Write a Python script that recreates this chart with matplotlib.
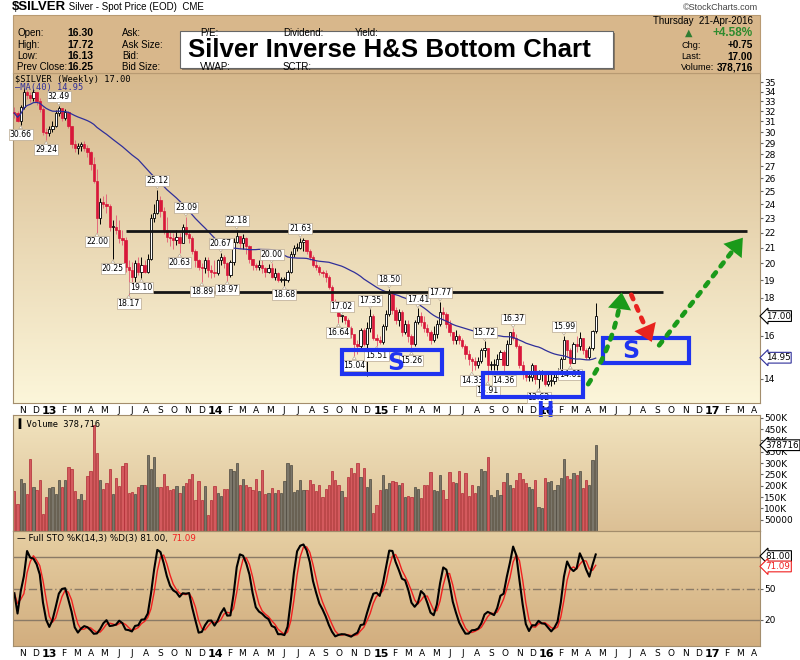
import numpy as np
import pandas as pd
import matplotlib
matplotlib.use("Agg")
import matplotlib.pyplot as plt
import matplotlib.dates as mdates
import matplotlib.colors as mcolors
from matplotlib.patches import Rectangle, FancyArrowPatch
from matplotlib.offsetbox import TextArea, HPacker, AnchoredOffsetbox

plt.rcParams['font.family'] = ['DejaVu Sans']

# ---- weekly data (Oct 2012 - Apr 2016) ----
weeks = pd.date_range('2012-10-15', periods=184, freq='W-MON')
first_open = 31.9
closes = [31.8, 31.0, 32.4, 34.0, 33.6, 33.3, 33.9, 33.0, 32.2, 30.0,
          29.9, 30.3, 30.6, 31.8, 32.3, 31.3, 31.9, 30.6, 28.9, 28.6,
          28.7, 28.9, 28.6, 28.2, 27.2, 25.8, 23.0, 24.2, 24.0, 23.9,
          22.4, 22.4, 22.2, 21.6, 21.5, 19.8, 19.6, 19.2, 20.0, 19.5,
          19.9, 19.5, 20.3, 23.0, 23.4, 24.3, 23.5, 22.2, 21.7, 21.6,
          21.5, 21.7, 21.3, 22.4, 21.9, 21.6, 20.8, 20.2, 19.8, 19.7,
          20.2, 19.6, 19.5, 19.4, 20.2, 20.4, 20.0, 19.3, 20.1, 21.4,
          21.8, 21.3, 21.6, 21.1, 20.3, 19.9, 19.8, 19.9, 19.7, 19.5,
          19.7, 19.2, 19.4, 19.0, 19.0, 19.0, 19.5, 20.6, 21.0, 21.0,
          21.4, 21.5, 20.8, 20.4, 19.9, 19.8, 19.5, 19.4, 19.2, 18.6,
          17.8, 17.4, 17.0, 17.0, 16.8, 16.4, 16.1, 15.6, 15.5, 16.3,
          15.6, 16.4, 17.0, 15.9, 15.8, 15.7, 16.5, 17.1, 18.2, 17.3,
          16.8, 17.2, 16.2, 16.6, 16.0, 15.6, 16.7, 17.0, 16.7, 16.4,
          16.2, 15.8, 16.1, 16.6, 17.2, 17.1, 16.6, 16.2, 15.8, 16.0,
          15.8, 15.5, 15.1, 14.9, 14.8, 14.6, 14.8, 15.3, 15.4, 14.6,
          14.6, 14.6, 14.9, 15.2, 14.6, 15.6, 16.2, 15.9, 15.5, 14.6,
          14.2, 14.1, 14.1, 14.6, 14.0, 14.2, 14.2, 13.8, 13.9, 13.9,
          14.1, 14.3, 14.9, 15.8, 15.3, 14.7, 15.6, 15.5, 15.9, 15.3,
          15.0, 15.4, 16.25, 17.00]
highs = [32.4, 32.0, 32.6, 34.4, 34.2, 34.0, 34.3, 34.0, 33.3, 32.4,
         30.4, 30.6, 31.0, 32.1, 32.49, 32.2, 32.2, 32.0, 30.5, 29.3,
         29.0, 29.1, 29.2, 28.8, 28.3, 27.8, 26.8, 24.5, 24.6, 24.8,
         24.0, 22.9, 23.2, 22.9, 22.2, 21.7, 20.2, 20.1, 20.2, 20.4,
         20.4, 20.2, 20.6, 23.3, 24.0, 25.12, 24.6, 23.8, 23.1, 22.2,
         22.0, 22.2, 22.0, 22.6, 23.09, 22.2, 21.8, 20.9, 20.3, 20.0,
         20.4, 20.4, 19.9, 20.2, 20.3, 20.67, 20.5, 20.1, 20.2, 21.6,
         22.18, 21.8, 21.9, 21.7, 21.2, 20.3, 20.0, 20.2, 20.2, 19.8,
         19.95, 20.00, 19.7, 19.5, 19.2, 19.2, 19.6, 20.8, 21.2, 21.3,
         21.63, 21.6, 21.4, 20.9, 20.5, 20.2, 19.9, 19.6, 19.6, 19.3,
         18.7, 17.9, 17.5, 17.02, 17.0, 16.9, 16.5, 16.0, 15.8, 16.4,
         16.4, 16.7, 17.35, 17.1, 16.1, 16.0, 16.6, 17.3, 18.50, 18.3,
         17.5, 17.4, 17.3, 16.8, 16.8, 16.1, 16.8, 17.41, 17.2, 17.0,
         16.6, 16.3, 16.5, 16.8, 17.77, 17.5, 17.2, 16.8, 16.2, 16.3,
         16.1, 15.9, 15.6, 15.3, 15.0, 15.0, 15.0, 15.4, 15.72, 15.3,
         14.8, 14.9, 15.1, 15.3, 15.3, 15.8, 16.2, 16.37, 16.1, 15.6,
         14.8, 14.3, 14.3, 14.7, 14.6, 14.4, 14.4, 14.3, 14.3, 14.2,
         14.3, 14.5, 15.0, 15.99, 15.7, 15.4, 15.7, 16.0, 16.2, 15.9,
         15.4, 15.5, 16.3, 17.72]
lows = [31.3, 30.9, 30.66, 32.2, 33.2, 32.9, 33.0, 32.6, 31.9, 29.7,
        29.24, 29.6, 30.0, 30.5, 31.5, 31.0, 31.1, 30.4, 28.6, 28.2,
        28.0, 28.3, 28.3, 27.8, 26.7, 25.6, 22.00, 22.6, 23.7, 23.4,
        22.1, 20.25, 21.9, 21.3, 21.2, 19.5, 18.17, 18.6, 18.9, 19.3,
        19.10, 19.4, 19.4, 20.2, 22.7, 23.3, 23.1, 21.9, 21.4, 21.1,
        20.9, 21.2, 20.63, 21.3, 21.8, 21.3, 20.6, 19.8, 19.6, 18.89,
        19.4, 19.2, 19.1, 19.2, 19.3, 19.9, 19.7, 18.97, 19.2, 19.9,
        21.3, 21.0, 20.9, 20.6, 20.0, 19.6, 19.6, 19.6, 19.4, 19.2,
        19.4, 19.1, 19.0, 18.9, 18.9, 18.68, 18.9, 19.4, 20.4, 20.8,
        20.9, 20.8, 20.6, 20.2, 19.8, 19.6, 19.3, 19.2, 18.9, 18.5,
        17.6, 17.2, 16.64, 16.7, 16.6, 16.2, 15.9, 15.04, 15.1, 15.4,
        15.5, 14.15, 16.2, 15.8, 15.51, 15.6, 15.6, 16.3, 17.0, 17.1,
        16.6, 16.5, 16.0, 16.1, 15.7, 15.26, 15.5, 16.6, 16.5, 16.2,
        16.0, 15.6, 15.7, 15.9, 16.5, 16.8, 16.4, 16.0, 15.6, 15.6,
        15.6, 15.4, 14.9, 14.6, 14.33, 14.4, 14.5, 14.7, 15.0, 13.91,
        14.4, 14.4, 14.4, 14.9, 14.36, 14.6, 15.6, 15.8, 15.4, 14.5,
        14.0, 13.9, 13.9, 13.9, 13.8, 13.62, 13.9, 13.7, 13.7, 13.7,
        13.8, 14.0, 14.3, 14.9, 15.0, 14.61, 14.7, 15.2, 15.3, 15.1,
        14.9, 14.9, 15.3, 16.13]
# weekly volume, thousands
volume_k = [175, 120, 230, 212, 165, 320, 195, 183, 227, 76,
            150, 190, 195, 165, 227, 195, 224, 282, 275, 178,
            141, 162, 135, 242, 264, 468, 343, 224, 186, 212,
            275, 165, 235, 200, 287, 301, 168, 174, 165, 195,
            203, 205, 334, 272, 327, 195, 195, 250, 200, 183,
            186, 200, 168, 198, 212, 230, 250, 138, 220, 138,
            200, 71, 138, 200, 168, 153, 186, 187, 272, 264,
            301, 205, 230, 205, 195, 180, 230, 175, 269, 165,
            168, 189, 168, 180, 168, 220, 298, 290, 174, 180,
            223, 180, 183, 224, 209, 175, 205, 148, 187, 205,
            263, 224, 205, 175, 150, 239, 276, 254, 301, 239,
            279, 195, 230, 79, 114, 183, 248, 186, 212, 220,
            218, 205, 212, 150, 153, 148, 195, 186, 145, 202,
            202, 260, 183, 175, 248, 183, 143, 260, 218, 212,
            264, 168, 257, 153, 203, 168, 200, 275, 264, 328,
            159, 148, 183, 160, 215, 254, 205, 190, 223, 257,
            230, 212, 195, 186, 223, 105, 101, 236, 215, 220,
            180, 203, 235, 319, 242, 230, 254, 248, 263, 190,
            224, 205, 313, 378.716]

# weeks carrying a price label on the chart
high_label_weeks = [14, 45, 54, 65, 70, 81, 90, 103, 112, 118, 127, 134, 148, 157, 173]
low_label_weeks = [2, 10, 26, 31, 36, 40, 52, 59, 67, 85, 102, 107, 114, 125,
                   144, 149, 154, 165, 175]

sto_k_last, sto_d_last = 81.00, 71.09

# ---- derived series ----
closes = np.array(closes)
highs = np.array(highs)
lows = np.array(lows)
opens = np.r_[first_open, closes[:-1]]
x = mdates.date2num(weeks)
ma40 = pd.Series(closes).rolling(40, min_periods=1).mean()
hh = pd.Series(highs).rolling(14, min_periods=1).max()
ll = pd.Series(lows).rolling(14, min_periods=1).min()
fast_k = 100 * (pd.Series(closes) - ll) / (hh - ll)
sto_k = fast_k.rolling(3, min_periods=1).mean()
sto_d = sto_k.rolling(3, min_periods=1).mean()

W, H = 800, 660
fig = plt.figure(figsize=(8, 6.6), dpi=100)
hfont = 'Liberation Sans'


def rect(x0, y0, x1, y1):
    return [x0 / W, 1 - y1 / H, (x1 - x0) / W, (y1 - y0) / H]


def grad_bg(r, top, bottom):
    bg = fig.add_axes(r, zorder=-5)
    t = np.array(mcolors.to_rgb(top))
    b = np.array(mcolors.to_rgb(bottom))
    c = np.linspace(0, 1, 200)[:, None]
    bg.imshow((t + (b - t) * c)[:, None, :], aspect='auto', extent=[0, 1, 0, 1])
    bg.axis('off')


xlim = (mdates.date2num(pd.Timestamp('2012-10-12')), mdates.date2num(pd.Timestamp('2017-04-15')))
months = pd.date_range('2012-11-01', '2017-04-01', freq='MS')
mlabels = [f'{d.year % 100}' if d.month == 1 else 'JFMAMJJASOND'[d.month - 1] for d in months]
spine_col = '#A38D6C'

# ---- header ----
fig.patches.append(Rectangle((13 / W, 1 - 73 / H), 747 / W, 58 / H, transform=fig.transFigure,
                             fc='#D8B78B', ec='#B89A72', lw=0.8, zorder=0))
hdr = HPacker(children=[TextArea(r'\$SILVER', textprops=dict(fontsize=9.5, weight='bold', family=hfont)),
                        TextArea(' Silver - Spot Price (EOD)  CME', textprops=dict(fontsize=7, family=hfont))],
              align='baseline', pad=0, sep=0)
fig.add_artist(AnchoredOffsetbox(loc='upper left', child=hdr, pad=0, borderpad=0, frameon=False,
                                 bbox_to_anchor=(12 / W, 1 - 1 / H), bbox_transform=fig.transFigure))
fig.text(758 / W, 1 - 8 / H, '\u00a9StockCharts.com', fontsize=6.5, ha='right', va='center',
         color='#444444', family=hfont)

for i, (lab, val) in enumerate([('Open:', '16.30'), ('High:', '17.72'), ('Low:', '16.13'),
                                ('Prev Close:', '16.25')]):
    yy = 1 - (33 + i * 11.5) / H
    fig.text(17 / W, yy, lab, fontsize=7, va='center', family=hfont)
    fig.text(67 / W, yy, val, fontsize=7.5, weight='bold', va='center', family=hfont)
for i, lab in enumerate(['Ask:', 'Ask Size:', 'Bid:', 'Bid Size:']):
    fig.text(122 / W, 1 - (33 + i * 11.5) / H, lab, fontsize=7, va='center', family=hfont)
for xx, lab in [(200, 'P/E:'), (283, 'Dividend:'), (355, 'Yield:')]:
    fig.text(xx / W, 1 - 33 / H, lab, fontsize=7, va='center', family=hfont)
for xx, lab in [(200, 'VWAP:'), (283, 'SCTR:')]:
    fig.text(xx / W, 1 - 67.5 / H, lab, fontsize=7, va='center', family=hfont)

fig.text(753 / W, 1 - 21 / H, 'Thursday  21-Apr-2016', fontsize=7, ha='right', va='center', family=hfont)
fig.text(689 / W, 1 - 33 / H, '\u25b2', fontsize=7, color='#2E7D32', ha='center', va='center')
fig.text(753 / W, 1 - 33 / H, '+4.58%', fontsize=8.5, color='#2E8B2E', weight='bold', ha='right',
         va='center', family=hfont)
for i, (lab, val) in enumerate([('Chg:', '+0.75'), ('Last:', '17.00'), ('Volume:', '378,716')]):
    yy = 1 - (45 + i * 11.5) / H
    fig.text(681 / W, yy, lab, fontsize=6.6, va='center', family=hfont)
    fig.text(753 / W, yy, val, fontsize=7.2, weight='bold', ha='right', va='center', family=hfont)

# title box
fig.patches.append(Rectangle((182 / W, 1 - 70 / H), 433 / W, 37 / H, transform=fig.transFigure,
                             fc='#8C7A62', ec='none', zorder=2))
fig.patches.append(Rectangle((180 / W, 1 - 68 / H), 433 / W, 37 / H, transform=fig.transFigure,
                             fc='white', ec='#666666', lw=0.8, zorder=3))
fig.text(389 / W, 1 - 50 / H, 'Silver Inverse H&S Bottom Chart', fontsize=18.6, weight='bold',
         family=hfont, ha='center', va='center', zorder=4)

# ---- price panel ----
grad_bg(rect(13, 73, 760, 403), '#D6B88C', '#FCF6DA')
ax = fig.add_axes(rect(13, 73, 760, 403))
ax.set_facecolor('none')
ax.set_yscale('log')
ax.set_xlim(*xlim)
ax.set_ylim(13.0, 36.0)

up = closes >= opens
ax.vlines(x[up], lows[up], highs[up], color='black', lw=0.7, zorder=2)
ax.vlines(x[~up], lows[~up], highs[~up], color='#E5677A', lw=0.7, zorder=2)
ax.bar(x[up], np.maximum(closes - opens, 0.05)[up], bottom=opens[up], width=5.0,
       fc='white', ec='black', lw=0.6, zorder=3)
ax.bar(x[~up], np.maximum(opens - closes, 0.05)[~up], bottom=closes[~up], width=5.0,
       fc='#D8173A', ec='#D8173A', lw=0.5, zorder=3)
ax.plot(x, ma40, color='#2F2F9A', lw=0.9, zorder=4)

lbl_kw = dict(fontsize=5.6, zorder=6, family='DejaVu Sans',
              bbox=dict(boxstyle='square,pad=0.12', fc='white', ec='#B8A890', lw=0.5),
              arrowprops=dict(arrowstyle='wedge,tail_width=0.5', fc='white', ec='#B8A890', lw=0.5,
                              shrinkA=0, shrinkB=0.5))
for i in high_label_weeks:
    ax.annotate(f'{highs[i]:.2f}', xy=(x[i], highs[i]), xytext=(0, 3.5), textcoords='offset points',
                ha='center', va='bottom', **lbl_kw)
for i in low_label_weeks:
    ax.annotate(f'{lows[i]:.2f}', xy=(x[i], lows[i]), xytext=(0, -3.5), textcoords='offset points',
                ha='center', va='top', **lbl_kw)

# neckline / resistance lines
d = lambda s: mdates.date2num(pd.Timestamp(s))
ax.hlines(22.1, d('2013-06-17'), d('2017-03-18'), color='#151515', lw=2.0, zorder=5)
ax.hlines(18.3, d('2013-06-24'), d('2016-09-13'), color='#151515', lw=2.0, zorder=5)

blue = '#1F33F0'
for (x0, x1, y0, y1) in [('2014-10-08', '2015-05-16', 14.2, 15.29),
                         ('2015-08-13', '2016-03-20', 13.26, 14.28),
                         ('2016-05-04', '2016-11-09', 14.69, 15.87)]:
    ax.add_patch(Rectangle((d(x0), y0), d(x1) - d(x0), y1 - y0, fill=False, ec=blue, lw=3.0, zorder=7))
ax.text(d('2015-02-03'), 14.7, 'S', color=blue, fontsize=17, weight='bold', ha='center', va='center', zorder=8)
ax.text(d('2016-07-04'), 15.25, 'S', color=blue, fontsize=17, weight='bold', ha='center', va='center', zorder=8)
ax.text(d('2015-12-28'), 12.7, 'H', color=blue, fontsize=15, weight='bold', ha='center', va='center',
        zorder=8, clip_on=False)

# dotted projection arrows: dotted shaft + solid head
for (p0, p1, col, rad) in [(('2016-03-29', 13.68), ('2016-06-15', 18.45), '#1A9A1A', 0.12),
                           (('2016-07-03', 18.3), ('2016-08-22', 15.57), '#E8231E', 0.0),
                           (('2016-09-01', 15.43), ('2017-03-12', 21.8), '#1A9A1A', 0.0)]:
    a0, a1 = (d(p0[0]), p0[1]), (d(p1[0]), p1[1])
    cs = f'arc3,rad={rad}'
    ax.add_patch(FancyArrowPatch(a0, a1, arrowstyle='-', connectionstyle=cs, color=col, lw=3.4,
                                 linestyle=':', shrinkB=8, zorder=8))
    ax.add_patch(FancyArrowPatch(a0, a1, arrowstyle='-|>,head_length=0.55,head_width=0.38',
                                 connectionstyle=cs, mutation_scale=22, fc=col, ec='none', lw=0,
                                 zorder=9))

ax.yaxis.tick_right()
ax.minorticks_off()
pticks = [14, 16] + list(range(18, 36))
ax.set_yticks(pticks)
ax.set_yticklabels([str(t) for t in pticks])
ax.tick_params(axis='y', labelsize=6.5, length=2, pad=1, color='#666666')
ax.set_xticks(mdates.date2num(months))
ax.set_xticklabels(mlabels)
ax.tick_params(axis='x', labelsize=6.5, length=0, pad=2)
for lbl, m in zip(ax.get_xticklabels(), months):
    if m.month == 1:
        lbl.set_fontweight('bold')
        lbl.set_fontsize(8)
for s in ax.spines.values():
    s.set_color(spine_col)

ax.text(0.003, 0.993, r'\$SILVER (Weekly) 17.00', transform=ax.transAxes, fontsize=6.3,
        family='DejaVu Sans Mono', va='top', zorder=9)
ax.text(0.003, 0.969, '\u2014MA(40) 14.95', transform=ax.transAxes, fontsize=6.3,
        family='DejaVu Sans Mono', color='#2F2F9A', va='top', zorder=9)


def marker(a, y, txt, ec='black', tc='black'):
    a.annotate(txt, xy=(1.0, y), xycoords=a.get_yaxis_transform(), xytext=(4, 0),
               textcoords='offset points', ha='left', va='center', fontsize=6.3, color=tc,
               bbox=dict(boxstyle='larrow,pad=0.1', fc='white', ec=ec, lw=0.8),
               annotation_clip=False, zorder=10)


marker(ax, closes[-1], f'{closes[-1]:.2f}')
marker(ax, 14.95, '14.95', ec='#2F2F9A')

# ---- volume panel ----
grad_bg(rect(13, 415, 760, 531), '#F1E3BE', '#DCC095')
av = fig.add_axes(rect(13, 415, 760, 531))
av.set_facecolor('none')
av.set_xlim(*xlim)
av.set_ylim(0, 512)
vol = np.array(volume_k)
vdown = closes < np.r_[opens[0], closes[:-1]]
av.bar(x[vdown], vol[vdown], width=5.0, fc='#D45A5E', ec='#B02A35', lw=0.5)
av.bar(x[~vdown], vol[~vdown], width=5.0, fc='#7B766A', ec='#4C483F', lw=0.5)
av.yaxis.tick_right()
vt = list(range(50, 501, 50))
av.set_yticks(vt)
av.set_yticklabels(['50000'] + [f'{t}K' for t in vt[1:]])
av.tick_params(axis='y', labelsize=6.5, length=2, pad=1, color='#666666')
av.set_xticks([])
for s in av.spines.values():
    s.set_color(spine_col)
av.text(0.004, 0.975, '\u2590 Volume 378,716', transform=av.transAxes, fontsize=6.3,
        family='DejaVu Sans Mono', va='top')
marker(av, vol[-1], '378716')

# ---- stochastic panel ----
grad_bg(rect(13, 531, 760, 646), '#E6CFA3', '#D2AE7F')
asx = fig.add_axes(rect(13, 531, 760, 646))
asx.set_facecolor('none')
asx.set_xlim(*xlim)
asx.set_ylim(-5, 105)
asx.axhline(80, color='#8A7A66', lw=1.0)
asx.axhline(20, color='#8A7A66', lw=1.0)
asx.axhline(50, color='#8A7A66', lw=1.0, linestyle=(0, (6, 2, 1, 2)))
asx.plot(x, sto_d, color='#F02020', lw=1.0)
asx.plot(x, sto_k, color='black', lw=1.5)
asx.yaxis.tick_right()
asx.set_yticks([20, 50])
asx.set_yticklabels(['20', '50'])
asx.tick_params(axis='y', labelsize=6.5, length=2, pad=1, color='#666666')
asx.set_xticks(mdates.date2num(months))
asx.set_xticklabels(mlabels)
asx.tick_params(axis='x', labelsize=6.5, length=0, pad=2)
for lbl, m in zip(asx.get_xticklabels(), months):
    if m.month == 1:
        lbl.set_fontweight('bold')
        lbl.set_fontsize(8)
for s in asx.spines.values():
    s.set_color(spine_col)
sto_lab = HPacker(children=[TextArea(f'\u2014 Full STO %K(14,3) %D(3) {sto_k_last:.2f}, ',
                                     textprops=dict(fontsize=6.3)),
                            TextArea(f'{sto_d_last:.2f}', textprops=dict(fontsize=6.3, color='#F02020'))],
                  align='baseline', pad=0, sep=0)
asx.add_artist(AnchoredOffsetbox(loc='upper left', child=sto_lab, pad=0, borderpad=0.2, frameon=False,
                                 bbox_to_anchor=(0.002, 1.0), bbox_transform=asx.transAxes))
marker(asx, sto_k_last, f'{sto_k_last:.2f}')
marker(asx, sto_d_last, f'{sto_d_last:.2f}', ec='#F02020', tc='#F02020')

fig.savefig('out.png', dpi=100)
